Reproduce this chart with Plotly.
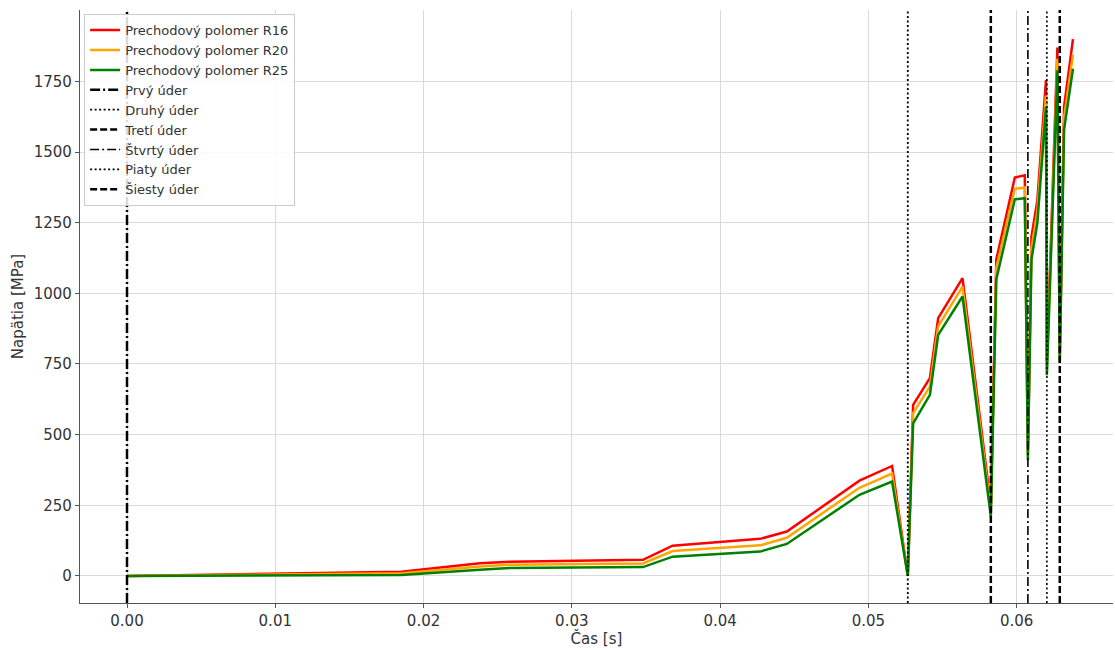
import plotly.graph_objects as go

# ---- data ----
time_s = [0.0, 0.0185, 0.0238, 0.0258, 0.0348, 0.0368, 0.0427, 0.0445, 0.0494, 0.0516,
          0.05266, 0.05302, 0.05415, 0.05471, 0.05635, 0.05826, 0.05863, 0.05988, 0.06055,
          0.06076, 0.0610, 0.0614, 0.06198, 0.06204, 0.06275, 0.06291, 0.0632, 0.0638]

stress_r16 = [0, 15, 45, 50, 57, 107, 131, 157, 337, 389,
              0, 605, 700, 912, 1054, 250, 1120, 1410, 1418,
              450, 1200, 1330, 1755, 760, 1870, 780, 1660, 1900]
stress_r20 = [0, 9, 33, 39, 44, 88, 108, 135, 312, 362,
              0, 576, 670, 883, 1024, 230, 1090, 1370, 1375,
              430, 1160, 1290, 1700, 730, 1830, 765, 1620, 1845]
stress_r25 = [0, 3, 22, 28, 31, 68, 86, 113, 287, 334,
              0, 540, 641, 853, 989, 210, 1050, 1333, 1337,
              410, 1120, 1250, 1660, 710, 1790, 755, 1580, 1795]

series_names = ["Prechodový polomer R16", "Prechodový polomer R20", "Prechodový polomer R25"]
series_colors = ["#ff0000", "#ffa500", "#008000"]

strike_names = ["Prvý úder", "Druhý úder", "Tretí úder", "Štvrtý úder", "Piaty úder", "Šiesty úder"]
strike_times = [0.0, 0.05266, 0.05826, 0.06076, 0.06204, 0.06291]
strike_dash = ["10px,3px,2px,3px", "2px,2.5px", "7px,3px", "9px,3px,2px,3px", "2px,2.5px", "7px,3px"]
strike_width = [2.5, 1.8, 2.5, 1.6, 1.6, 2.5]

x_ticks = [0.0, 0.01, 0.02, 0.03, 0.04, 0.05, 0.06]
y_ticks = [0, 250, 500, 750, 1000, 1250, 1500, 1750]

x_range = [-0.00317, 0.0665]
y_range = [-96, 2003]

fig = go.Figure()

for name, ys, col in zip(series_names, [stress_r16, stress_r20, stress_r25], series_colors):
    fig.add_trace(go.Scatter(x=time_s, y=ys, mode="lines", name=name,
                             line=dict(color=col, width=2.5)))

for name, t, d, w in zip(strike_names, strike_times, strike_dash, strike_width):
    fig.add_trace(go.Scatter(x=[t, t], y=y_range, mode="lines", name=name,
                             line=dict(color="black", dash=d, width=w)))

fig.update_layout(
    width=1115, height=648,
    margin=dict(l=80, r=2, t=10, b=45),
    paper_bgcolor="white", plot_bgcolor="white",
    font=dict(family="DejaVu Sans", size=13, color="#333333"),
    showlegend=True,
    legend=dict(x=0.004, y=0.993, xanchor="left", yanchor="top",
                bgcolor="rgba(255,255,255,0.85)", bordercolor="#cccccc", borderwidth=1,
                font=dict(size=13, color="#333333"), tracegroupgap=0, itemwidth=30),
)

fig.update_xaxes(range=x_range, tickvals=x_ticks, tickformat=".2f",
                 showgrid=True, gridcolor="#dadada", gridwidth=1,
                 showline=True, linecolor="#555555", linewidth=1.2,
                 ticks="outside", ticklen=4, tickcolor="#555555",
                 zeroline=False, automargin=False,
                 title=dict(text="Čas [s]", font=dict(size=15), standoff=4),
                 tickfont=dict(size=15))
fig.update_yaxes(range=y_range, tickvals=y_ticks,
                 showgrid=True, gridcolor="#dadada", gridwidth=1,
                 showline=True, linecolor="#555555", linewidth=1.2,
                 ticks="outside", ticklen=4, tickcolor="#555555",
                 zeroline=False, automargin=False,
                 title=dict(text="Napätia [MPa]", font=dict(size=15), standoff=6),
                 tickfont=dict(size=15))

fig.write_html("out.html", config={"displayModeBar": False},
               post_script="document.body.style.margin='0';document.body.style.overflow='hidden';")
